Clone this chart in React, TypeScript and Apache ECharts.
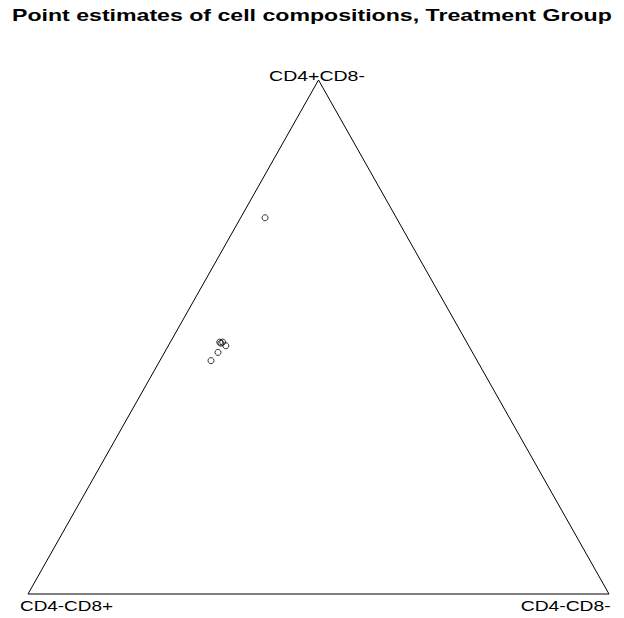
import React, { useEffect, useRef } from "react";
import * as echarts from "echarts";

// Estimated cell compositions (fractions) for each sample in the treatment group
const cd4PosCd8Neg = [0.732, 0.49, 0.488, 0.49, 0.483, 0.47, 0.454];
const cd4NegCd8Pos = [0.226, 0.425, 0.424, 0.42, 0.418, 0.438, 0.458];
const cd4NegCd8Neg = [0.042, 0.085, 0.088, 0.09, 0.099, 0.092, 0.088];

// Vertex labels: top, bottom-left, bottom-right
const vertexLabels = ["CD4+CD8-", "CD4-CD8+", "CD4-CD8-"];
const titleText = "Point estimates of cell compositions, Treatment Group";

// Ternary -> cartesian: x = right share + top share / 2, y = top share
const toXY = (top: number, right: number) => [right + top / 2, top];

const FONT = "Liberation Sans, Arial, sans-serif";

function measure(text: string, font: string) {
  const ctx = document.createElement("canvas").getContext("2d")!;
  ctx.font = font;
  return ctx.measureText(text).width;
}

export default function App() {
  const ref = useRef<HTMLDivElement>(null);

  useEffect(() => {
    const chart = echarts.init(ref.current!, null, { renderer: "svg" });
    const points = cd4PosCd8Neg.map((t, i) => toXY(t, cd4NegCd8Neg[i]));
    const triangle = [toXY(0, 0), toXY(0, 1), toXY(1, 0), toXY(0, 0)];

    chart.setOption({
      animation: false,
      backgroundColor: "#ffffff",
      grid: { left: 28, right: 15, top: 80, bottom: 24 },
      xAxis: { type: "value", min: 0, max: 1, show: false },
      yAxis: { type: "value", min: 0, max: 1, show: false },
      series: [
        {
          type: "line",
          data: triangle,
          symbol: "none",
          clip: false,
          silent: true,
          lineStyle: { color: "#000000", width: 1 },
        },
        {
          type: "scatter",
          data: points,
          symbol: "circle",
          symbolSize: 6,
          clip: false,
          itemStyle: { color: "rgba(0,0,0,0)", borderColor: "#000000", borderWidth: 1 },
        },
      ],
    });

    const apex = chart.convertToPixel({ gridIndex: 0 }, toXY(1, 0)) as number[];
    const left = chart.convertToPixel({ gridIndex: 0 }, toXY(0, 0)) as number[];
    const right = chart.convertToPixel({ gridIndex: 0 }, toXY(0, 1)) as number[];

    const labelFont = `15px ${FONT}`;
    const titleFont = `bold 16px ${FONT}`;
    const sx = (text: string, font: string, target: number) => target / measure(text, font);

    const label = (text: string, x: number, y: number, align: string, width: number) => ({
      type: "text",
      x,
      y,
      scaleX: sx(text, labelFont, width),
      silent: true,
      style: {
        text,
        font: labelFont,
        fill: "#000000",
        align,
        verticalAlign: "middle",
      },
    });

    chart.setOption({
      graphic: [
        {
          type: "text",
          x: 12,
          y: 15.5,
          scaleX: sx(titleText, titleFont, 600),
          silent: true,
          style: {
            text: titleText,
            font: titleFont,
            fill: "#000000",
            align: "left",
            verticalAlign: "middle",
          },
        },
        label(vertexLabels[0], apex[0] - 1.5, apex[1] - 4.5, "center", 96),
        label(vertexLabels[1], left[0] - 8, left[1] + 12.5, "left", 93),
        label(vertexLabels[2], right[0] + 1.7, right[1] + 12, "right", 90),
      ],
    });

    return () => chart.dispose();
  }, []);

  return (
    <div
      ref={ref}
      style={{ position: "fixed", left: 0, top: 0, width: 624, height: 618, background: "#fff" }}
    />
  );
}
